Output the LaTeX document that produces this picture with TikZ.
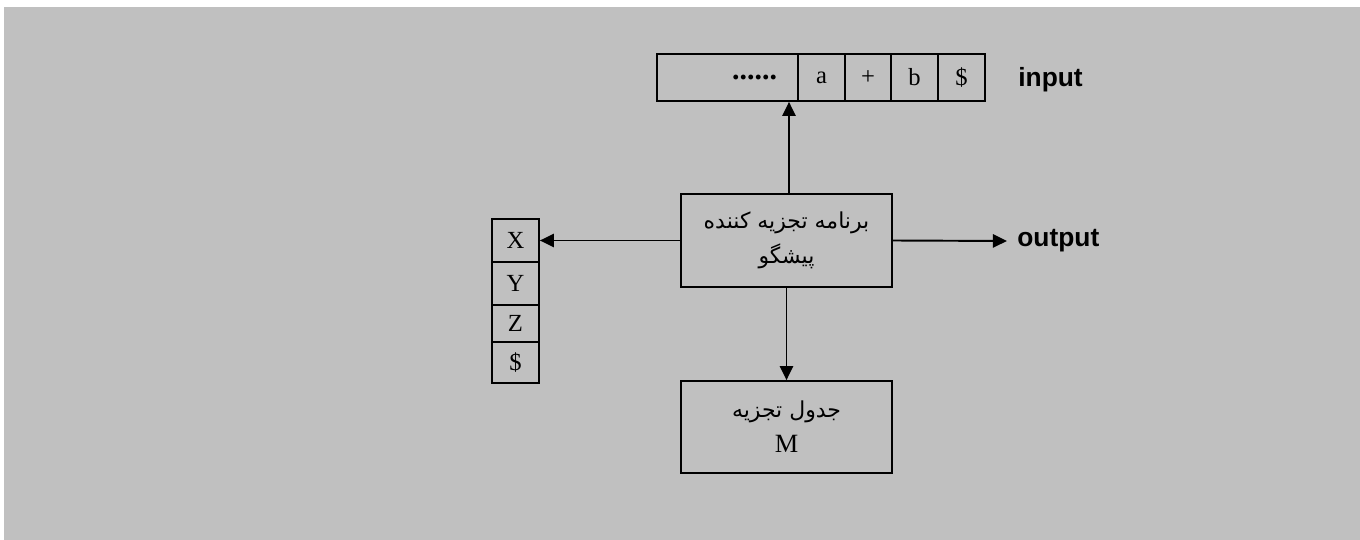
\documentclass[tikz,border=0pt]{standalone}
\usepackage{fontspec}
\setmainfont{Liberation Serif}
\newfontfamily\fa[Script=Arabic]{DejaVu Sans}
\newfontfamily\lbl{Liberation Sans}
\TeXXeTstate=1
\usetikzlibrary{arrows.meta}
\definecolor{paper}{HTML}{C0C0C0}

\tikzset{
  cell/.style={draw, line width=1pt, inner sep=0pt, minimum width=0.94cm, font=\fontsize{14}{16}\selectfont},
  box/.style={draw, line width=1pt, minimum width=4.22cm, align=center, font=\fa\fontsize{12.5}{20}\selectfont},
  arr/.style={line width=1.1pt, -{Triangle[length=8pt,width=7.5pt]}},
  tag/.style={font=\lbl\bfseries\fontsize{15}{17}\selectfont, inner ysep=0pt, inner xsep=0.2cm}
}

\begin{document}
\begin{tikzpicture}[x=0.02cm, y=-0.02cm]
  \useasboundingbox (0,0) rectangle (1360,540);
  \fill[paper] (4,7) rectangle (1360,540);

  % input tape
  \node[cell, minimum height=0.94cm, text width=1.98cm, inner xsep=0.42cm, align=right, font=\bfseries\fontsize{17}{18}\selectfont] (dots) at (727.5,77.5) {......};
  \node[cell, minimum height=0.94cm] (ta) at (821.5,77.5) {a};
  \node[cell, minimum height=0.94cm] (tplus) at (868,77.5) {+};
  \node[cell, minimum height=0.94cm] (tb) at (914.5,77.5) {b};
  \node[cell, minimum height=0.94cm] (tend) at (961.5,77.5) {\$};
  \node[tag, anchor=west] (input) at (1008,80) {input};

  % stack
  \node[cell, minimum height=0.86cm] (sx) at (515.5,240.5) {X};
  \node[cell, minimum height=0.86cm] (sy) at (515.5,283.5) {Y};
  \node[cell, minimum height=0.74cm] (sz) at (515.5,323.5) {Z};
  \node[cell, minimum height=0.82cm] (send) at (515.5,362.5) {\$};

  % parser program and table
  \node[box, minimum height=1.86cm] (parser) at (786.5,240.5)
    {\beginR برنامه تجزیه کننده\endR\\\beginR پیشگو\endR};
  \node[box, minimum height=1.84cm] (table) at (786.5,427)
    {\beginR جدول تجزیه\endR\\{\rmfamily\fontsize{15}{17}\selectfont M}};
  \node[tag, anchor=west] (output) at (1007,241) {output};

  \draw[arr] (parser.north -| 789,0) -- (dots.south east -| 789,0);
  \draw[arr] (parser.west) -- (sx.east);
  \draw[arr] (parser.east) -- (output.west);
  \draw[arr] (parser.south) -- (table.north);
\end{tikzpicture}
\end{document}
